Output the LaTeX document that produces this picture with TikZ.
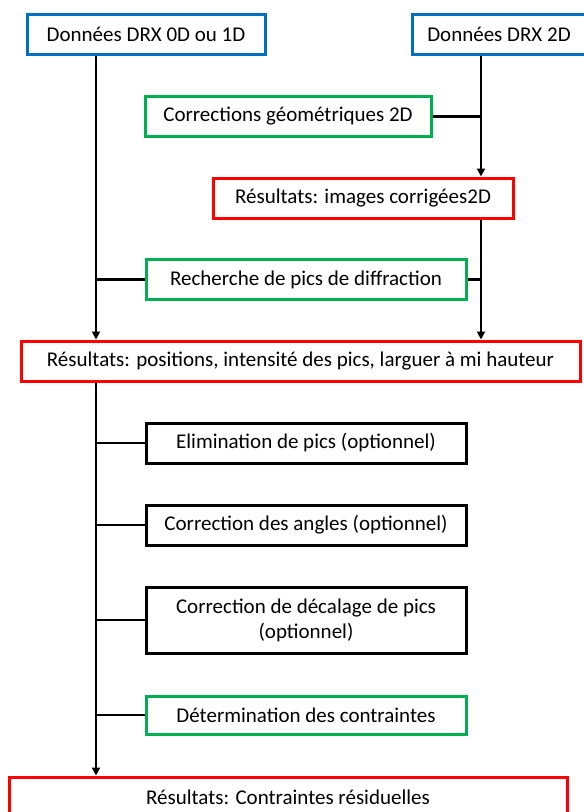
\documentclass[tikz,border=0pt]{standalone}
\usepackage{fontspec}
\setmainfont{Carlito}
\usetikzlibrary{arrows.meta}
\definecolor{bleu}{RGB}{0,112,192}
\definecolor{vert}{RGB}{0,176,80}
\definecolor{rouge}{RGB}{255,0,0}

\begin{document}
\begin{tikzpicture}[x=1pt,y=-1pt,
  boite/.style={draw,line width=3pt,minimum height=40pt,inner sep=0pt,
    align=center,font=\fontsize{21}{25}\selectfont},
  donnee/.style={boite,draw=bleu},
  etape/.style={boite,draw=vert},
  resultat/.style={boite,draw=rouge},
  option/.style={boite,draw=black},
  trait/.style={line width=2.4pt},
  fleche/.style={trait,-{Triangle[width=8pt,length=8pt]}}]

\useasboundingbox (0,0) rectangle (584,812);

% les deux troncs
\coordinate (troncG) at (96,0);
\coordinate (troncD) at (481,0);

% boites
\node[donnee,minimum width=238pt] (drx1d) at (146,34.5) {Données DRX 0D ou 1D};
\node[donnee,minimum width=174pt] (drx2d) at (499,34.5) {Données DRX 2D};
\node[etape,minimum width=286pt] (corrgeo) at (288,116.5) {Corrections géométriques 2D};
\node[resultat,minimum width=300pt] (imgcorr) at (363,198) {Résultats: images corrigées2D};
\node[etape,minimum width=320pt] (recherche) at (306,279.5) {Recherche de pics de diffraction};
\node[resultat,minimum width=559pt] (respics) at (300.5,361)
  {Résultats: positions, intensité des pics, larguer à mi hauteur};
\node[option,minimum width=320pt] (elim) at (306,443) {Elimination de pics (optionnel)};
\node[option,minimum width=320pt] (angles) at (306,525) {Correction des angles (optionnel)};
\node[option,minimum width=320pt,minimum height=66pt] (decal) at (306,620)
  {Correction de décalage de pics\\(optionnel)};
\node[etape,minimum width=320pt,minimum height=38pt] (contraintes) at (306,715)
  {Détermination des contraintes};
\node[resultat,minimum width=558pt] (resfinal) at (288,797) {Résultats: Contraintes résiduelles};

% connexions
\draw[fleche] (drx1d.south -| troncG) -- (respics.north -| troncG);
\draw[fleche] (drx2d.south -| troncD) -- (imgcorr.north -| troncD);
\draw[fleche] (imgcorr.south -| troncD) -- (respics.north -| troncD);
\draw[trait] (corrgeo.east) -- (corrgeo.east -| troncD);
\draw[trait] (recherche.west) -- (recherche.west -| troncG);
\draw[trait] (recherche.east) -- (recherche.east -| troncD);
\draw[fleche] (respics.south -| troncG) -- (resfinal.north -| troncG);
\foreach \n in {elim,angles,decal,contraintes}
\draw[trait] (\n.west) -- (\n.west -| troncG);
\end{tikzpicture}
\end{document}
